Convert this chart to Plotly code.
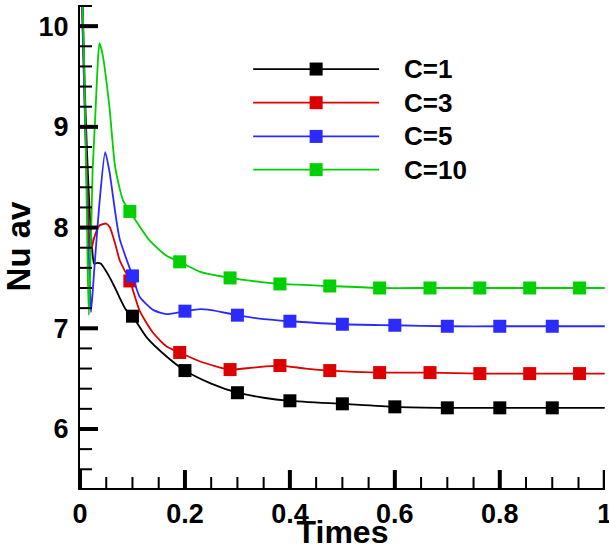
import plotly.graph_objects as go

# ---------------- data ----------------
black_t = [0.0, 0.004, 0.009, 0.013, 0.018, 0.023, 0.027, 0.033, 0.040, 0.048, 0.056, 0.066, 0.075, 0.088,
           0.100, 0.127, 0.165, 0.200, 0.250, 0.300, 0.350, 0.400, 0.500, 0.600, 0.700, 0.800, 0.900, 1.000]
black_y = [11.0, 10.4, 9.4, 8.8, 8.2, 7.8, 7.64, 7.65, 7.64, 7.58, 7.51, 7.41, 7.31, 7.18,
           7.12, 6.91, 6.72, 6.58, 6.45, 6.36, 6.31, 6.28, 6.25, 6.22, 6.21, 6.21, 6.21, 6.21]

red_t = [0.0, 0.005, 0.010, 0.015, 0.020, 0.027, 0.037, 0.050, 0.057, 0.067, 0.076, 0.095, 0.114,
         0.140, 0.165, 0.190, 0.229, 0.286, 0.330, 0.381, 0.430, 0.476, 0.571, 0.667, 0.762, 0.857,
         0.952, 1.000]
red_y = [11.0, 10.0, 9.0, 8.3, 7.75, 7.90, 8.02, 8.04, 8.00, 7.84, 7.67, 7.47, 7.17,
         6.95, 6.82, 6.76, 6.67, 6.59, 6.61, 6.63, 6.60, 6.58, 6.56, 6.56, 6.55, 6.55,
         6.55, 6.55]

blue_t = [0.0, 0.005, 0.010, 0.015, 0.019, 0.021, 0.027, 0.037, 0.048, 0.056, 0.075, 0.100, 0.114,
          0.140, 0.165, 0.200, 0.229, 0.250, 0.300, 0.350, 0.400, 0.500, 0.600, 0.700, 0.800, 0.900,
          1.000]
blue_y = [11.0, 10.0, 9.0, 8.0, 7.4, 7.16, 7.57, 8.24, 8.75, 8.56, 7.90, 7.52, 7.31,
          7.18, 7.14, 7.17, 7.19, 7.18, 7.13, 7.09, 7.07, 7.04, 7.03, 7.02, 7.02, 7.02,
          7.02]

green_t = [0.0, 0.003, 0.008, 0.012, 0.015, 0.017, 0.021, 0.024, 0.029, 0.033, 0.037, 0.043, 0.056,
           0.067, 0.082, 0.095, 0.133, 0.165, 0.190, 0.229, 0.286, 0.343, 0.381, 0.476, 0.571,
           0.667, 0.762, 0.857, 0.952, 1.000]
green_y = [11.0, 10.6, 9.6, 8.5, 7.5, 7.13, 7.90, 8.56, 9.09, 9.55, 9.83, 9.72, 9.20,
           8.60, 8.27, 8.16, 7.87, 7.72, 7.66, 7.56, 7.50, 7.46, 7.44, 7.42, 7.40,
           7.40, 7.40, 7.40, 7.40, 7.40]

# marker positions
mk_t_a = [0.1, 0.2, 0.3, 0.4, 0.5, 0.6, 0.7, 0.8, 0.9]
black_mk = [7.12, 6.58, 6.36, 6.28, 6.25, 6.22, 6.21, 6.21, 6.21]
blue_mk = [7.52, 7.17, 7.13, 7.07, 7.04, 7.03, 7.02, 7.02, 7.02]
mk_t_b = [0.095, 0.190, 0.286, 0.381, 0.476, 0.571, 0.667, 0.762, 0.857, 0.952]
red_mk = [7.47, 6.76, 6.59, 6.63, 6.58, 6.56, 6.56, 6.55, 6.55, 6.55]
green_mk = [8.16, 7.66, 7.50, 7.44, 7.42, 7.40, 7.40, 7.40, 7.40, 7.40]

series_names = ["C=1", "C=3", "C=5", "C=10"]
series_colors = ["#000000", "#dd0000", "#2b2bff", "#00d000"]

# axis ticks
x_major = [0.0, 0.2, 0.4, 0.6, 0.8, 1.0]
x_major_text = ["0", "0.2", "0.4", "0.6", "0.8", "1"]
x_minor_step = 0.05
y_major = [6, 7, 8, 9, 10]
y_minor_step = 0.2

X_RANGE = [0, 1.0005]
Y_RANGE = [5.414, 10.21]

W, H = 609, 550
ML, MR, MT, MB = 80, 4, 5, 62

# ---------------- figure ----------------
curves = [(black_t, black_y), (red_t, red_y), (blue_t, blue_y), (green_t, green_y)]
marks = [(mk_t_a, black_mk), (mk_t_b, red_mk), (mk_t_a, blue_mk), (mk_t_b, green_mk)]

fig = go.Figure()
for (t, y), (mt, my), name, col in zip(curves, marks, series_names, series_colors):
    fig.add_trace(go.Scatter(x=t, y=y, mode="lines", name=name,
                             line=dict(color=col, width=1.8, shape="spline", smoothing=0.6),
                             showlegend=False, hoverinfo="skip"))
    fig.add_trace(go.Scatter(x=mt, y=my, mode="markers", name=name,
                             marker=dict(symbol="square", size=13, color=col,
                                         line=dict(width=0)),
                             showlegend=False))

FONT = "Liberation Sans, Arial, sans-serif"

# inward tick marks, drawn as line segments in axis units (pixel lengths converted by the axis scale)
x_per_px = (X_RANGE[1] - X_RANGE[0]) / (W - ML - MR)
y_per_px = (Y_RANGE[1] - Y_RANGE[0]) / (H - MT - MB)
tick_seg = {True: ([], []), False: ([], [])}
for i in range(int(round(1 / x_minor_step)) + 1):
    v = round(i * x_minor_step, 4)
    major = any(abs(v - m) < 1e-9 for m in x_major)
    ln = 18 if major else 11
    xs, ys = tick_seg[major]
    xs += [v, v, None]
    ys += [Y_RANGE[0], Y_RANGE[0] + ln * y_per_px, None]
for i in range(25):
    v = round(5.4 + i * y_minor_step, 4)
    if v < Y_RANGE[0] or v > Y_RANGE[1] + 1e-9:
        continue
    major = any(abs(v - m) < 1e-9 for m in y_major)
    ln = 18 if major else 12
    xs, ys = tick_seg[major]
    xs += [X_RANGE[0], X_RANGE[0] + ln * x_per_px, None]
    ys += [v, v, None]
for major, (xs, ys) in tick_seg.items():
    fig.add_trace(go.Scatter(x=xs, y=ys, mode="lines", showlegend=False, hoverinfo="skip",
                             line=dict(color="black", width=4 if major else 2)))

shapes = []
annotations = []

# custom legend (long line samples like the original)
leg_x0, leg_x1, leg_xm, leg_xt = 0.33, 0.57, 0.45, 0.613
leg_rows = [9.574, 9.24, 8.905, 8.575]
for name, col, ly in zip(series_names, series_colors, leg_rows):
    shapes.append(dict(type="line", xref="x", yref="y", x0=leg_x0, x1=leg_x1, y0=ly, y1=ly,
                       line=dict(color=col, width=1.8)))
    shapes.append(dict(type="rect", xref="x", yref="y", xsizemode="pixel", ysizemode="pixel",
                       xanchor=leg_xm, yanchor=ly, x0=-6.5, x1=6.5, y0=-6.5, y1=6.5,
                       fillcolor=col, line=dict(width=0)))
    annotations.append(dict(x=leg_xt, y=ly, xref="x", yref="y", text=name, showarrow=False,
                            xanchor="left", yanchor="middle",
                            font=dict(family=FONT, size=26, color="black", weight="bold")))

fig.update_layout(
    width=W, height=H,
    margin=dict(l=ML, r=MR, t=MT, b=MB),
    paper_bgcolor="white", plot_bgcolor="white",
    showlegend=False,
    shapes=shapes, annotations=annotations,
    xaxis=dict(range=X_RANGE, tickmode="array", tickvals=x_major, ticktext=x_major_text,
               showline=True, linecolor="black", linewidth=2.2, mirror=False,
               ticks="", showgrid=False, zeroline=False, automargin=False,
               ticklabeloverflow="allow", ticklabelstandoff=0,
               tickfont=dict(family=FONT, size=27, color="black", weight="bold"),
               title=dict(text="Times", standoff=5,
                          font=dict(family=FONT, size=32, color="black", weight="bold"))),
    yaxis=dict(range=Y_RANGE, tickmode="array", tickvals=y_major,
               ticktext=[str(v) for v in y_major],
               showline=True, linecolor="black", linewidth=2.2, mirror=False,
               ticks="", showgrid=False, zeroline=False, automargin=False,
               ticklabelstandoff=4,
               tickfont=dict(family=FONT, size=27, color="black", weight="bold"),
               title=dict(text="Nu av", standoff=0,
                          font=dict(family=FONT, size=33, color="black", weight="bold"))),
)

fig.write_html("out.html")
